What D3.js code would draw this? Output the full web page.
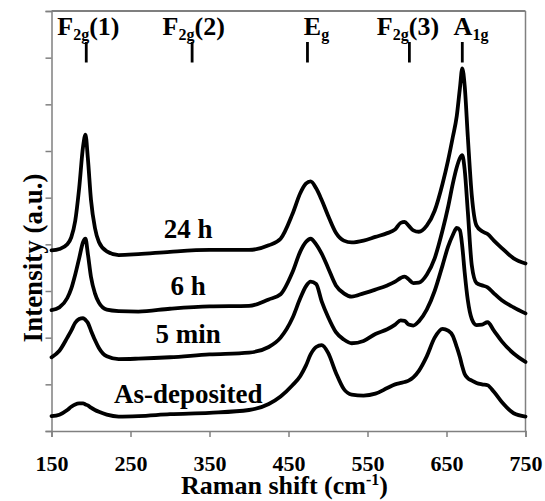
<!DOCTYPE html>
<html><head><meta charset="utf-8">
<script src="https://cdn.jsdelivr.net/npm/d3@7"></script>
<style>
html,body{margin:0;padding:0;background:#fff;}
</style></head>
<body>
<svg id="chart" width="545" height="501" font-family="Liberation Serif, Tinos, Times New Roman, DejaVu Serif, serif" font-weight="bold"></svg>
<script>
// Raman shift grid (cm^-1)
const shift = [150,160,170,175,180,185,190,193,196,200,205,210,220,235,260,300,350,400,425,440,455,465,472,478,485,492,500,510,520,530,545,560,575,585,592,597,602,608,615,625,635,645,652,658,663,667,670,673,677,682,688,695,702,710,720,735,750];

// Intensity (a.u., offset traces)
const h24 = [3.87,3.90,4.00,4.15,4.50,5.20,6.10,6.35,5.85,4.95,4.35,4.05,3.85,3.77,3.79,3.84,3.88,3.88,3.98,4.12,4.65,5.10,5.30,5.35,5.20,4.95,4.62,4.25,4.08,4.04,4.08,4.16,4.24,4.32,4.46,4.48,4.40,4.30,4.27,4.40,4.72,5.30,5.80,6.30,6.75,7.35,7.77,7.40,6.30,5.05,4.40,4.28,4.22,4.08,3.92,3.70,3.59];
const h6 = [2.59,2.65,2.85,3.05,3.35,3.70,4.05,4.12,3.80,3.30,2.95,2.75,2.60,2.57,2.56,2.62,2.67,2.68,2.82,2.93,3.40,3.85,4.05,4.12,4.00,3.80,3.50,3.12,2.95,2.88,2.95,3.03,3.12,3.20,3.28,3.31,3.25,3.17,3.18,3.35,3.70,4.30,4.80,5.30,5.65,5.85,5.91,5.60,4.70,3.55,3.17,3.12,3.08,2.95,2.80,2.65,2.52];
const min5 = [1.58,1.72,2.00,2.15,2.32,2.40,2.42,2.38,2.32,2.15,1.95,1.78,1.60,1.54,1.55,1.58,1.64,1.68,1.80,2.00,2.42,2.85,3.10,3.20,3.15,2.78,2.45,2.12,1.96,1.88,1.93,2.08,2.18,2.28,2.37,2.36,2.28,2.26,2.35,2.60,3.00,3.55,3.95,4.20,4.35,4.30,3.95,3.40,2.80,2.40,2.27,2.28,2.33,2.15,1.92,1.66,1.48];
const asDep = [0.32,0.35,0.45,0.52,0.57,0.59,0.59,0.57,0.55,0.50,0.45,0.41,0.35,0.31,0.32,0.36,0.39,0.45,0.58,0.74,0.98,1.18,1.40,1.64,1.80,1.84,1.68,1.25,0.90,0.78,0.76,0.80,0.92,1.00,1.03,1.05,1.08,1.15,1.29,1.60,2.00,2.19,2.15,2.04,1.80,1.58,1.38,1.22,1.13,1.08,1.03,1.00,0.98,0.84,0.62,0.38,0.31];

const seriesNames = ["24 h","6 h","5 min","As-deposited"];
const labelShift = 323;               // x (cm^-1) where trace labels sit
const labelLevels = [4.14, 2.91, 1.88, 0.59];

const modeNames = ["F2g(1)","F2g(2)","Eg","F2g(3)","A1g"];
const modePos = [194, 328, 474, 603, 670];

const xTicks = [150,250,350,450,550,650,750];
const yTicks = [0,1,2,3,4,5,6,7,8,9];

const FONT = "Liberation Serif, Tinos, Times New Roman, DejaVu Serif, serif";
const svg = d3.select("#chart");
const L = 51.5, R = 525.5, T = 11, B = 431;
const x = d3.scaleLinear().domain([150,750]).range([L,R]);
const y = d3.scaleLinear().domain([0,9]).range([B,T]);

// frame (top / right)
svg.append("line").attr("x1",L).attr("x2",R).attr("y1",T).attr("y2",T)
  .attr("stroke","#555").attr("stroke-width",1.5);
svg.append("line").attr("x1",R).attr("x2",R).attr("y1",T).attr("y2",B)
  .attr("stroke","#808080").attr("stroke-width",1.5);

// axes
const gy = svg.append("g").attr("transform",`translate(${L},0)`)
  .call(d3.axisLeft(y).tickValues(yTicks).tickSize(6).tickFormat(""));
const gx = svg.append("g").attr("transform",`translate(0,${B})`)
  .call(d3.axisBottom(x).tickValues(xTicks).tickSize(6).tickFormat(d3.format("d")));
[gx,gy].forEach(g=>{
  g.attr("font-family",FONT).attr("font-weight","bold").attr("font-size",22);
  g.select(".domain").attr("stroke","#808080").attr("stroke-width",1.5);
  g.selectAll(".tick line").attr("stroke","#808080").attr("stroke-width",1.5);
});
gx.selectAll(".tick text").attr("y",40).attr("dy","0").attr("fill","#000")
  .attr("font-family",FONT).attr("font-weight","bold");

// traces
const all = [h24,h6,min5,asDep];
const line = d3.line().x((d,i)=>x(shift[i])).y(d=>y(d)).curve(d3.curveMonotoneX);
svg.append("g").selectAll("path").data(all).join("path")
  .attr("d",line).attr("fill","none").attr("stroke","#000")
  .attr("stroke-width",3.8).attr("stroke-linejoin","round").attr("stroke-linecap","round");

// trace labels
svg.append("g").selectAll("text").data(seriesNames).join("text")
  .attr("x",x(labelShift)).attr("y",(d,i)=>y(labelLevels[i]))
  .attr("text-anchor","middle").attr("font-size",27).attr("font-family",FONT).attr("font-weight","bold").text(d=>d);

// mode markers
const modeG = svg.append("g").attr("font-family",FONT).attr("font-weight","bold");
modePos.forEach((p,i)=>{
  modeG.append("line").attr("x1",x(p)).attr("x2",x(p)).attr("y1",42).attr("y2",62.5)
    .attr("stroke","#000").attr("stroke-width",2.8);
  const name = modeNames[i];
  const m = name.match(/^([A-Z])(\d?g)(.*)$/);
  const dx = {"F2g(1)":-29,"F2g(2)":-29.5,"Eg":-3.6,"F2g(3)":-32.5,"A1g":-8.7}[name];
  const t = modeG.append("text").attr("x",x(p)+dx).attr("y",35).attr("font-size",26);
  t.append("tspan").text(m[1]);
  t.append("tspan").attr("dy",5).attr("font-size",16).text(m[2]);
  if (m[3]) t.append("tspan").attr("dy",-5).text(m[3]);
});

// axis titles
const xt = svg.append("text").attr("x",(L+R)/2 - 4).attr("y",494).attr("text-anchor","middle")
  .attr("font-size",26).attr("font-family",FONT).attr("font-weight","bold");
xt.append("tspan").text("Raman shift (cm");
xt.append("tspan").attr("dy",-9).attr("font-size",16).text("-1");
xt.append("tspan").attr("dy",9).text(")");

svg.append("text").attr("transform","translate(41.5,258) rotate(-90)")
  .attr("text-anchor","middle").attr("font-size",27).attr("font-family",FONT).attr("font-weight","bold").text("Intensity (a.u.)");
</script>
</body></html>
